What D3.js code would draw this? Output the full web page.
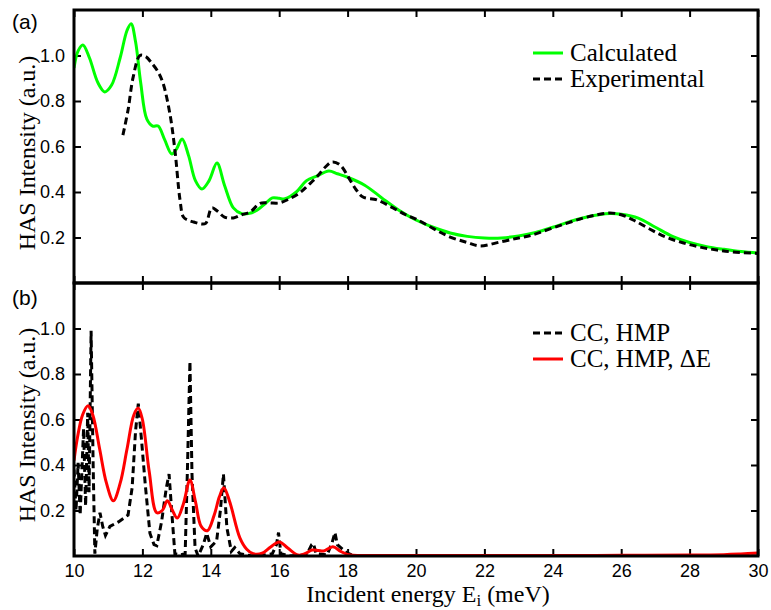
<!DOCTYPE html>
<html>
<head>
<meta charset="utf-8">
<script src="https://cdn.jsdelivr.net/npm/d3@7"></script>
<style>
  body { margin: 0; background: #fff; }
  .tick text { font-family: "Liberation Sans", Arial, sans-serif; font-size: 18px; fill: #000; }
  .tick line { stroke: #000; stroke-width: 2; }
  .serif { font-family: "Liberation Serif", "Times New Roman", serif; fill: #000; }
</style>
</head>
<body>
<div id="chart"></div>
<script>
// x ticks shared by both panels
const energyTicks = [10, 12, 14, 16, 18, 20, 22, 24, 26, 28, 30];
const intensityTicks = [0.2, 0.4, 0.6, 0.8, 1.0];

// (a) calculated spectrum
const calcE = [10.0, 10.12, 10.26, 10.45, 10.7, 10.9, 11.1, 11.35, 11.55, 11.67, 11.8, 11.95, 12.13, 12.3, 12.46, 12.65, 12.86, 13.0, 13.16, 13.35, 13.55, 13.74, 13.95, 14.18, 14.4, 14.66, 14.9, 15.1, 15.35, 15.6, 15.8, 16.0, 16.17, 16.5, 16.8, 17.1, 17.45, 17.7, 17.98, 18.5, 19.0, 19.5, 20.0, 20.5, 21.0, 21.5, 22.0, 22.5, 23.0, 23.5, 24.0, 24.5, 25.0, 25.67, 26.0, 26.5, 27.0, 27.5, 28.0, 28.5, 29.0, 29.5, 30.0];
const calcI = [0.945, 1.02, 1.046, 0.99, 0.88, 0.84, 0.87, 0.99, 1.11, 1.14, 1.06, 0.88, 0.72, 0.69, 0.69, 0.63, 0.567, 0.59, 0.633, 0.56, 0.45, 0.413, 0.45, 0.527, 0.43, 0.33, 0.305, 0.305, 0.32, 0.35, 0.374, 0.372, 0.37, 0.40, 0.45, 0.47, 0.492, 0.48, 0.466, 0.43, 0.374, 0.32, 0.277, 0.245, 0.22, 0.205, 0.198, 0.198, 0.207, 0.222, 0.245, 0.27, 0.29, 0.305, 0.302, 0.285, 0.245, 0.205, 0.178, 0.16, 0.148, 0.138, 0.132];

// (a) experimental spectrum
const expE = [11.43, 11.58, 11.73, 11.93, 12.1, 12.27, 12.45, 12.6, 12.8, 12.95, 13.1, 13.2, 13.35, 13.5, 13.7, 13.85, 14.03, 14.2, 14.4, 14.66, 14.9, 15.15, 15.44, 15.7, 16.0, 16.3, 16.6, 16.85, 17.1, 17.35, 17.55, 17.78, 18.07, 18.25, 18.45, 18.86, 19.33, 19.7, 20.0, 20.5, 21.0, 21.5, 21.87, 22.45, 23.0, 23.4, 23.9, 24.4, 24.9, 25.3, 25.67, 26.0, 26.35, 26.8, 27.3, 27.8, 28.3, 28.8, 29.27, 30.0];
const expI = [0.65, 0.76, 0.905, 1.0, 0.995, 0.967, 0.93, 0.88, 0.747, 0.585, 0.365, 0.29, 0.275, 0.268, 0.26, 0.262, 0.33, 0.315, 0.29, 0.286, 0.3, 0.312, 0.35, 0.352, 0.352, 0.37, 0.396, 0.43, 0.466, 0.51, 0.532, 0.519, 0.453, 0.41, 0.378, 0.365, 0.33, 0.3, 0.281, 0.24, 0.202, 0.178, 0.163, 0.18, 0.198, 0.211, 0.237, 0.262, 0.286, 0.3, 0.308, 0.3, 0.277, 0.24, 0.202, 0.177, 0.158, 0.145, 0.136, 0.13];

// (b) CC, HMP (sharp resonances)
const ccE = [10.0, 10.06, 10.12, 10.18, 10.28, 10.34, 10.40, 10.44, 10.5, 10.56, 10.61, 10.68, 10.76, 10.84, 10.92, 11.05, 11.3, 11.58, 11.7, 11.8, 11.88, 11.98, 12.08, 12.22, 12.34, 12.42, 12.56, 12.7, 12.78, 12.86, 12.95, 13.1, 13.25, 13.32, 13.39, 13.45, 13.54, 13.63, 13.78, 13.88, 14.0, 14.17, 14.28, 14.37, 14.47, 14.6, 14.7, 14.85, 15.2, 15.6, 15.8, 15.92, 15.98, 16.05, 16.3, 16.8, 16.95, 17.0, 17.08, 17.4, 17.55, 17.63, 17.7, 17.97, 18.2, 30.0];
const ccI = [0.38, 0.2, 0.41, 0.18, 0.56, 0.22, 0.63, 0.28, 0.99, 0.4, 0.01, 0.12, 0.19, 0.13, 0.09, 0.13, 0.15, 0.18, 0.3, 0.55, 0.67, 0.5, 0.32, 0.1, 0.05, 0.045, 0.15, 0.3, 0.36, 0.19, 0.01, 0.005, 0.01, 0.4, 0.855, 0.36, 0.035, 0.0, 0.05, 0.1, 0.04, 0.066, 0.2, 0.36, 0.125, 0.02, 0.037, 0.01, 0.0, 0.005, 0.01, 0.05, 0.103, 0.01, 0.0, 0.005, 0.05, 0.055, 0.01, 0.005, 0.06, 0.103, 0.05, 0.015, 0.0, 0.0];

// (b) CC, HMP, dE (broadened)
const broadE = [10.0, 10.1, 10.25, 10.41, 10.55, 10.75, 10.95, 11.15, 11.35, 11.55, 11.75, 11.88, 12.0, 12.2, 12.42, 12.58, 12.73, 12.88, 13.02, 13.2, 13.39, 13.55, 13.72, 13.9, 14.1, 14.25, 14.38, 14.55, 14.85, 15.05, 15.24, 15.5, 15.75, 16.0, 16.25, 16.55, 16.75, 16.96, 17.15, 17.3, 17.57, 17.8, 18.07, 18.5, 20, 22, 24, 26, 28, 29, 29.5, 30];
const broadI = [0.42, 0.52, 0.62, 0.66, 0.62, 0.47, 0.32, 0.243, 0.32, 0.47, 0.62, 0.65, 0.6, 0.37, 0.19, 0.2, 0.243, 0.2, 0.167, 0.23, 0.334, 0.24, 0.13, 0.111, 0.18, 0.26, 0.3, 0.24, 0.08, 0.03, 0.01, 0.012, 0.04, 0.062, 0.035, 0.004, 0.01, 0.026, 0.024, 0.022, 0.041, 0.02, 0.004, 0.002, 0.002, 0.002, 0.002, 0.003, 0.004, 0.006, 0.009, 0.013];

class SpectrumPanel {
    constructor(_config, _series) {
        this.config = {
            svg: _config.svg,
            left: 74,
            right: 758,
            top: _config.top,
            bottom: _config.bottom,
            tag: _config.tag,
            tagY: _config.tagY,
            labelY: _config.labelY,
            showXLabels: _config.showXLabels || false,
            legendY: _config.legendY,
            tickLen: 7
        };
        this.series = _series;
        this.initVis();
    }

    initVis() {
        let vis = this;
        const c = vis.config;

        vis.x = d3.scaleLinear().domain([10, 30]).range([c.left, c.right]);
        vis.y = d3.scaleLinear().domain([0, 1.2]).range([c.bottom, c.top]);

        vis.g = c.svg.append('g');

        const clipId = 'clip-' + c.tag.replace(/\W/g, '');
        vis.g.append('clipPath').attr('id', clipId)
            .append('rect')
            .attr('x', c.left).attr('y', c.top)
            .attr('width', c.right - c.left).attr('height', c.bottom - c.top);

        const fmt = d3.format('.1f');
        const noLabel = () => '';

        const axes = [
            [d3.axisBottom(vis.x).tickValues(energyTicks).tickFormat(c.showXLabels ? d3.format('d') : noLabel), `translate(0,${c.bottom})`, 8],
            [d3.axisTop(vis.x).tickValues(energyTicks).tickFormat(noLabel), `translate(0,${c.top})`, 8],
            [d3.axisLeft(vis.y).tickValues(intensityTicks).tickFormat(fmt), `translate(${c.left},0)`, 9],
            [d3.axisRight(vis.y).tickValues(intensityTicks).tickFormat(noLabel), `translate(${c.right},0)`, 9]
        ];
        axes.forEach(([ax, tr, pad]) => {
            vis.g.append('g')
                .attr('transform', tr)
                .call(ax.tickSize(-c.tickLen).tickPadding(pad))
                .call(g => g.select('.domain').remove());
        });

        vis.line = d3.line()
            .x(d => vis.x(d[0]))
            .y(d => vis.y(d[1]));

        vis.series.forEach(s => {
            const pts = s.e.map((e, i) => [e, s.v[i]]);
            vis.g.append('path')
                .datum(pts)
                .attr('clip-path', `url(#${clipId})`)
                .attr('fill', 'none')
                .attr('stroke', s.color)
                .attr('stroke-width', 3)
                .attr('stroke-dasharray', s.dash ? '7,4' : null)
                .attr('d', vis.line.curve(s.smooth ? d3.curveCatmullRom.alpha(0.5) : d3.curveLinear));
        });

        // frame
        vis.g.append('rect')
            .attr('x', c.left).attr('y', c.top)
            .attr('width', c.right - c.left).attr('height', c.bottom - c.top)
            .attr('fill', 'none').attr('stroke', '#000').attr('stroke-width', 3);

        // legend
        vis.series.forEach((s, i) => {
            const ly = c.legendY + i * 26;
            vis.g.append('line')
                .attr('x1', 533).attr('x2', 563)
                .attr('y1', ly - 8).attr('y2', ly - 8)
                .attr('stroke', s.color).attr('stroke-width', 3)
                .attr('stroke-dasharray', s.dash ? '7,4' : null);
            vis.g.append('text')
                .attr('class', 'serif')
                .attr('x', 570).attr('y', ly)
                .style('font-size', '25px')
                .text(s.name);
        });

        vis.g.append('text')
            .attr('class', 'serif')
            .attr('transform', `translate(35,${c.labelY}) rotate(-90)`)
            .attr('text-anchor', 'middle')
            .style('font-size', '24px')
            .text('HAS Intensity (a.u.)');

        vis.g.append('text')
            .attr('x', 12).attr('y', c.tagY)
            .style('font-family', '"Liberation Sans", Arial, sans-serif')
            .style('font-size', '21px')
            .text(c.tag);
    }
}

const svg = d3.select('#chart').append('svg')
    .attr('width', 771)
    .attr('height', 610);

new SpectrumPanel({svg: svg, top: 10, bottom: 283, tag: '(a)', tagY: 29, labelY: 153, legendY: 61}, [
    {name: 'Calculated', e: calcE, v: calcI, color: '#00ff00', dash: false, smooth: true},
    {name: 'Experimental', e: expE, v: expI, color: '#000', dash: true, smooth: true}
]);

new SpectrumPanel({svg: svg, top: 283, bottom: 556, tag: '(b)', tagY: 305, labelY: 425, legendY: 341, showXLabels: true}, [
    {name: 'CC, HMP', e: ccE, v: ccI, color: '#000', dash: true, smooth: false},
    {name: 'CC, HMP, \u0394E', e: broadE, v: broadI, color: '#ff0000', dash: false, smooth: true}
]);

const xLabel = svg.append('text')
    .attr('class', 'serif')
    .attr('x', 428).attr('y', 602)
    .attr('text-anchor', 'middle')
    .style('font-size', '24px');
xLabel.append('tspan').text('Incident energy E');
xLabel.append('tspan').attr('dy', 4).style('font-size', '17px').text('i');
xLabel.append('tspan').attr('dy', -4).text(' (meV)');
</script>
</body>
</html>
